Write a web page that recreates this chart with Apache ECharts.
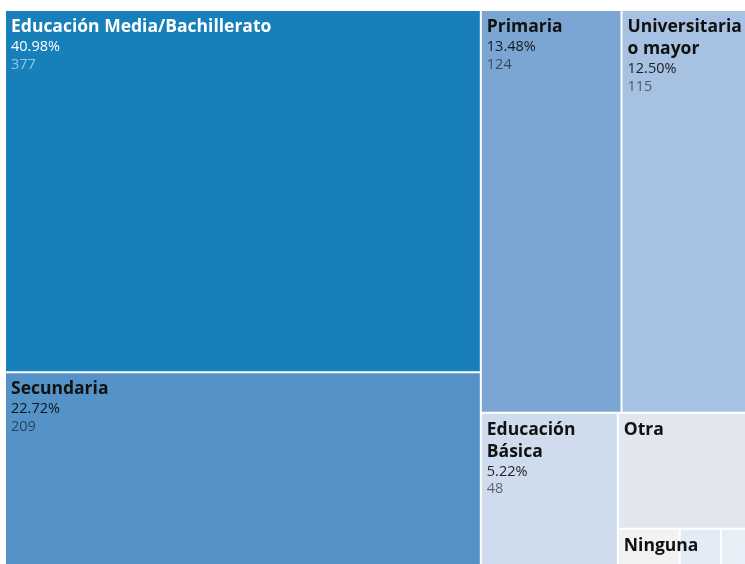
<!DOCTYPE html>
<html>
<head>
<meta charset="utf-8">
<script src="https://cdn.jsdelivr.net/npm/echarts@6/dist/echarts.min.js"></script>
<style>
html, body { margin: 0; padding: 0; background: #fff; }
#tree { width: 745px; height: 564px; }
</style>
</head>
<body>
<div id="tree"></div>
<script>
// niveles educativos y conteos
var names = ['Educación Media/Bachillerato', 'Secundaria', 'Primaria', 'Universitaria o mayor',
             'Educación Básica', 'Otra', 'Ninguna', 'No sabe', 'No responde'];
var counts = [377, 209, 124, 115, 48, 34, 6, 4, 3];
var colors = ['#177fba', '#5592c8', '#7ba6d3', '#a6c1e1', '#cedcee', '#e1e6ef', '#f1f2f4', '#e3ebf6', '#e6eef8'];
// que etiquetas se ven: 2 = completa, 1 = solo nombre, 0 = ninguna
var labelMode = [2, 2, 2, 2, 2, 1, 1, 0, 0];

var total = counts.reduce(function (a, b) { return a + b; }, 0);
var wrapped = names.map(function (n) { return [n]; });

var myChart = echarts.init(document.getElementById('tree'));

// partir el nombre en lineas segun el ancho de la caja
var ctx = document.createElement('canvas').getContext('2d');
ctx.font = 'bold 17.5px "Open Sans"';
function wrapName(name, maxW) {
    var words = name.split(' ');
    var lines = [], cur = '';
    words.forEach(function (w) {
        var t = cur ? cur + ' ' + w : w;
        if (cur && ctx.measureText(t).width > maxW) {
            lines.push(cur);
            cur = w;
        } else {
            cur = t;
        }
    });
    lines.push(cur);
    return lines;
}

var data = names.map(function (n, i) {
    var dark = i === 0;
    return {
        name: n,
        value: counts[i],
        itemStyle: { color: colors[i] },
        label: {
            show: labelMode[i] > 0,
            rich: {
                n: { fontSize: 17.5, fontWeight: 'bold', color: dark ? '#ffffff' : '#111111', lineHeight: 22, fontFamily: 'Open Sans' },
                p: { fontSize: 14.5, color: dark ? '#ffffff' : 'rgba(0,0,0,0.85)', lineHeight: 18, fontFamily: 'Open Sans' },
                v: { fontSize: 14.5, color: dark ? 'rgba(255,255,255,0.55)' : 'rgba(0,0,0,0.55)', lineHeight: 17, fontFamily: 'Open Sans' }
            }
        }
    };
});

function labelText(p) {
    var idx = names.indexOf(p.name);
    if (idx < 0) return '';
    var nm = wrapped[idx].map(function (l) { return '{n|' + l + '}'; }).join('\n');
    if (labelMode[idx] === 1) return nm;
    var pct = (counts[idx] / total * 100).toFixed(2) + '%';
    return nm + '\n{p|' + pct + '}\n{v|' + counts[idx] + '}';
}

var option = {
    animation: false,
    series: [{
        type: 'treemap',
        left: 5,
        top: 10,
        width: 747,
        height: 563,
        roam: false,
        nodeClick: false,
        breadcrumb: { show: false },
        visibleMin: 0,
        itemStyle: { borderColor: '#ffffff', borderWidth: 1, gapWidth: 0 },
        levels: [{ itemStyle: { borderWidth: 0, gapWidth: 0 } }],
        label: {
            position: 'insideTopLeft',
            padding: [5, 5],
            overflow: 'none',
            formatter: labelText
        },
        data: data
    }]
};

myChart.setOption(option);

// usar el ancho real de cada caja para cortar los nombres
try {
    var sd = myChart.getModel().getSeriesByIndex(0).getData();
    for (var k = 0; k < sd.count(); k++) {
        var lay = sd.getItemLayout(k);
        var nm = sd.getName(k);
        var j = names.indexOf(nm);
        if (j >= 0 && lay && labelMode[j] === 2) wrapped[j] = wrapName(nm, lay.width - 12);
    }
} catch (e) {}
myChart.setOption(option, true);
</script>
</body>
</html>
